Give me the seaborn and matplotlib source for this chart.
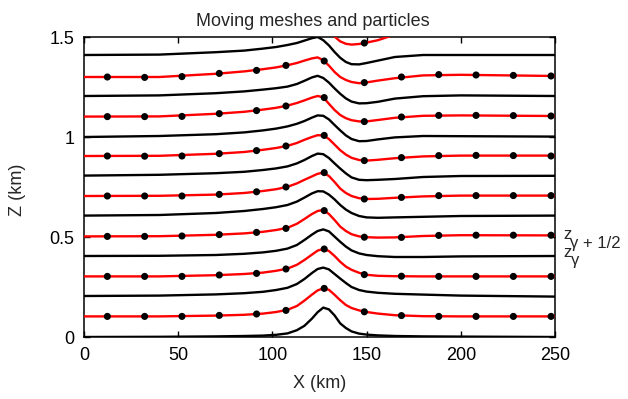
import numpy as np
import pandas as pd
import matplotlib
matplotlib.use("Agg")
import matplotlib.pyplot as plt
import seaborn as sns

# ---------------- data ----------------
X_GRID = [0, 40, 70, 85, 95, 102, 108, 113, 117, 121, 124, 127, 130, 133, 136, 139,
          142, 146, 150, 156, 165, 180, 200, 250]

# black mesh lines z_gamma
black_z00 = [0.000, 0.001, 0.003, 0.005, 0.007, 0.011, 0.018, 0.034, 0.056, 0.092, 0.124, 0.147,
             0.138, 0.108, 0.068, 0.045, 0.028, 0.017, 0.012, 0.008, 0.005, 0.003, 0.002, 0.000]
black_z02 = [0.205, 0.207, 0.213, 0.219, 0.226, 0.235, 0.246, 0.265, 0.290, 0.320, 0.340, 0.347,
             0.338, 0.315, 0.292, 0.270, 0.250, 0.235, 0.227, 0.221, 0.216, 0.212, 0.207, 0.202]
black_z04 = [0.405, 0.406, 0.410, 0.416, 0.423, 0.431, 0.442, 0.460, 0.485, 0.512, 0.530, 0.538,
             0.528, 0.502, 0.476, 0.452, 0.433, 0.418, 0.410, 0.404, 0.400, 0.400, 0.403, 0.405]
black_z06 = [0.607, 0.610, 0.620, 0.630, 0.640, 0.649, 0.660, 0.677, 0.697, 0.718, 0.729, 0.728,
             0.712, 0.688, 0.660, 0.637, 0.620, 0.605, 0.598, 0.596, 0.598, 0.601, 0.605, 0.607]
black_z08 = [0.807, 0.811, 0.819, 0.826, 0.835, 0.843, 0.853, 0.868, 0.885, 0.905, 0.917, 0.914,
             0.895, 0.868, 0.842, 0.818, 0.798, 0.786, 0.784, 0.786, 0.790, 0.800, 0.805, 0.806]
black_z10 = [1.000, 1.005, 1.014, 1.023, 1.033, 1.042, 1.053, 1.066, 1.080, 1.097, 1.108, 1.106,
             1.088, 1.060, 1.033, 1.008, 0.990, 0.979, 0.980, 0.988, 0.998, 1.005, 1.004, 1.002]
black_z12 = [1.205, 1.208, 1.219, 1.228, 1.237, 1.244, 1.252, 1.265, 1.281, 1.298, 1.306, 1.295,
             1.272, 1.243, 1.216, 1.193, 1.177, 1.168, 1.169, 1.176, 1.192, 1.204, 1.208, 1.205]
black_z14 = [1.410, 1.412, 1.424, 1.432, 1.442, 1.450, 1.460, 1.470, 1.482, 1.494, 1.500, 1.484,
             1.458, 1.425, 1.396, 1.375, 1.364, 1.363, 1.370, 1.382, 1.400, 1.410, 1.410, 1.410]

# red mesh lines z_{gamma+1/2}
red_z01 = [0.103, 0.103, 0.107, 0.111, 0.117, 0.125, 0.136, 0.155, 0.182, 0.212, 0.233, 0.243,
           0.236, 0.211, 0.184, 0.160, 0.145, 0.133, 0.125, 0.117, 0.109, 0.104, 0.103, 0.103]
red_z03 = [0.303, 0.303, 0.309, 0.315, 0.322, 0.331, 0.342, 0.361, 0.385, 0.412, 0.432, 0.440,
           0.430, 0.405, 0.376, 0.352, 0.336, 0.321, 0.311, 0.306, 0.304, 0.303, 0.303, 0.303]
red_z05 = [0.503, 0.504, 0.511, 0.518, 0.526, 0.535, 0.546, 0.566, 0.590, 0.615, 0.630, 0.635,
           0.615, 0.585, 0.552, 0.530, 0.514, 0.503, 0.499, 0.497, 0.498, 0.505, 0.509, 0.508]
red_z07 = [0.705, 0.706, 0.712, 0.720, 0.730, 0.739, 0.751, 0.768, 0.786, 0.803, 0.816, 0.822,
           0.805, 0.775, 0.742, 0.720, 0.705, 0.694, 0.690, 0.691, 0.696, 0.703, 0.707, 0.707]
red_z09 = [0.905, 0.906, 0.916, 0.925, 0.936, 0.945, 0.956, 0.970, 0.986, 1.000, 1.009, 1.008,
           0.990, 0.962, 0.934, 0.912, 0.896, 0.885, 0.882, 0.886, 0.894, 0.903, 0.907, 0.907]
red_z11 = [1.102, 1.103, 1.116, 1.126, 1.137, 1.146, 1.157, 1.170, 1.183, 1.197, 1.205, 1.199,
           1.166, 1.135, 1.110, 1.094, 1.084, 1.078, 1.078, 1.085, 1.096, 1.106, 1.108, 1.105]
red_z13 = [1.300, 1.300, 1.316, 1.328, 1.339, 1.348, 1.359, 1.370, 1.382, 1.393, 1.398, 1.384,
           1.357, 1.325, 1.300, 1.285, 1.275, 1.269, 1.273, 1.282, 1.294, 1.308, 1.311, 1.305]
red_z15 = [1.530, 1.530, 1.550, 1.560, 1.565, 1.575, 1.585, 1.595, 1.600, 1.600, 1.600, 1.580,
           1.550, 1.502, 1.478, 1.466, 1.462, 1.465, 1.472, 1.484, 1.512, 1.525, 1.525, 1.525]

# particles on the red lines
PARTICLE_X = [12.4, 32.2, 52.0, 71.8, 91.6, 107.2, 127.5, 148.8, 168.5, 188.3, 208.1, 227.9, 247.9]
part_z01 = [0.103, 0.103, 0.103, 0.108, 0.115, 0.133, 0.243, 0.126, 0.107, 0.103, 0.103, 0.103, 0.103]
part_z03 = [0.303, 0.303, 0.303, 0.310, 0.318, 0.340, 0.440, 0.312, 0.304, 0.303, 0.303, 0.303, 0.303]
part_z05 = [0.503, 0.503, 0.505, 0.512, 0.523, 0.543, 0.632, 0.499, 0.498, 0.508, 0.509, 0.509, 0.509]
part_z07 = [0.705, 0.705, 0.705, 0.713, 0.726, 0.750, 0.822, 0.690, 0.698, 0.707, 0.707, 0.707, 0.707]
part_z09 = [0.905, 0.904, 0.905, 0.917, 0.932, 0.955, 1.008, 0.882, 0.897, 0.907, 0.908, 0.907, 0.905]
part_z11 = [1.102, 1.102, 1.103, 1.117, 1.132, 1.155, 1.197, 1.077, 1.100, 1.108, 1.108, 1.107, 1.105]
part_z13 = [1.300, 1.298, 1.302, 1.318, 1.333, 1.358, 1.380, 1.272, 1.300, 1.312, 1.310, 1.308, 1.305]
part_z15 = [1.530, 1.530, 1.530, 1.550, 1.570, 1.590, 1.580, 1.470, 1.530, 1.530, 1.530, 1.530, 1.530]

X_TICKS = [0, 50, 100, 150, 200, 250]
Y_TICKS = [0, 0.5, 1, 1.5]
Y_TICK_LABELS = ["0", "0.5", "1", "1.5"]

# ---------------- build tables ----------------
black_lines = [black_z00, black_z02, black_z04, black_z06, black_z08, black_z10, black_z12, black_z14]
red_lines = [red_z01, red_z03, red_z05, red_z07, red_z09, red_z11, red_z13, red_z15]
particles = [part_z01, part_z03, part_z05, part_z07, part_z09, part_z11, part_z13, part_z15]

df_black = pd.concat([pd.DataFrame({"x": X_GRID, "z": z, "line": i}) for i, z in enumerate(black_lines)])
df_red = pd.concat([pd.DataFrame({"x": X_GRID, "z": z, "line": i}) for i, z in enumerate(red_lines)])
df_part = pd.concat([pd.DataFrame({"x": PARTICLE_X, "z": z}) for z in particles])

# ---------------- plot ----------------
sns.set_theme(style="ticks")
plt.rcParams["font.family"] = ["Liberation Sans", "DejaVu Sans"]

fig = plt.figure(figsize=(6.28, 3.99), dpi=100)
ax = fig.add_axes([84 / 628, 1 - 337 / 399, 471 / 628, 300 / 399])

sns.lineplot(data=df_black, x="x", y="z", units="line", estimator=None, sort=False,
             color="black", linewidth=1.7, ax=ax, legend=False, zorder=2)
sns.lineplot(data=df_red, x="x", y="z", units="line", estimator=None, sort=False,
             color="#ff0000", linewidth=1.7, ax=ax, legend=False, zorder=3)
sns.scatterplot(data=df_part, x="x", y="z", color="black", s=26, edgecolor="none",
                ax=ax, legend=False, zorder=4)

ax.set_xlim(0, 250)
ax.set_ylim(0, 1.5)
ax.set_xticks(X_TICKS)
ax.set_xticklabels([str(t) for t in X_TICKS])
ax.set_yticks(Y_TICKS)
ax.set_yticklabels(Y_TICK_LABELS)
ax.set_xlabel("")
ax.set_ylabel("")
ax.tick_params(direction="in", top=True, right=True, length=4, width=1,
               labelsize=13, pad=7, colors="black")
for sp in ax.spines.values():
    sp.set_color("black")
    sp.set_linewidth(1.1)

fig.text(313 / 628, 1 - 26 / 399, "Moving meshes and particles", ha="center",
         va="baseline", fontsize=13)
fig.text(319.5 / 628, 1 - 383 / 399, "X (km)", ha="center", va="center", fontsize=13)
fig.text(18 / 628, 1 - 190 / 399, "Z (km)", ha="center", va="center", rotation=90, fontsize=13)

fig.text(563 / 628, 1 - 239 / 399, "z", ha="left", va="baseline", fontsize=12)
fig.text(570.5 / 628, 1 - 248 / 399, "γ + 1/2", ha="left", va="baseline", fontsize=12)
fig.text(563 / 628, 1 - 257 / 399, "z", ha="left", va="baseline", fontsize=12)
fig.text(570.5 / 628, 1 - 265 / 399, "γ", ha="left", va="baseline", fontsize=12)

fig.savefig("out.png", dpi=100)
